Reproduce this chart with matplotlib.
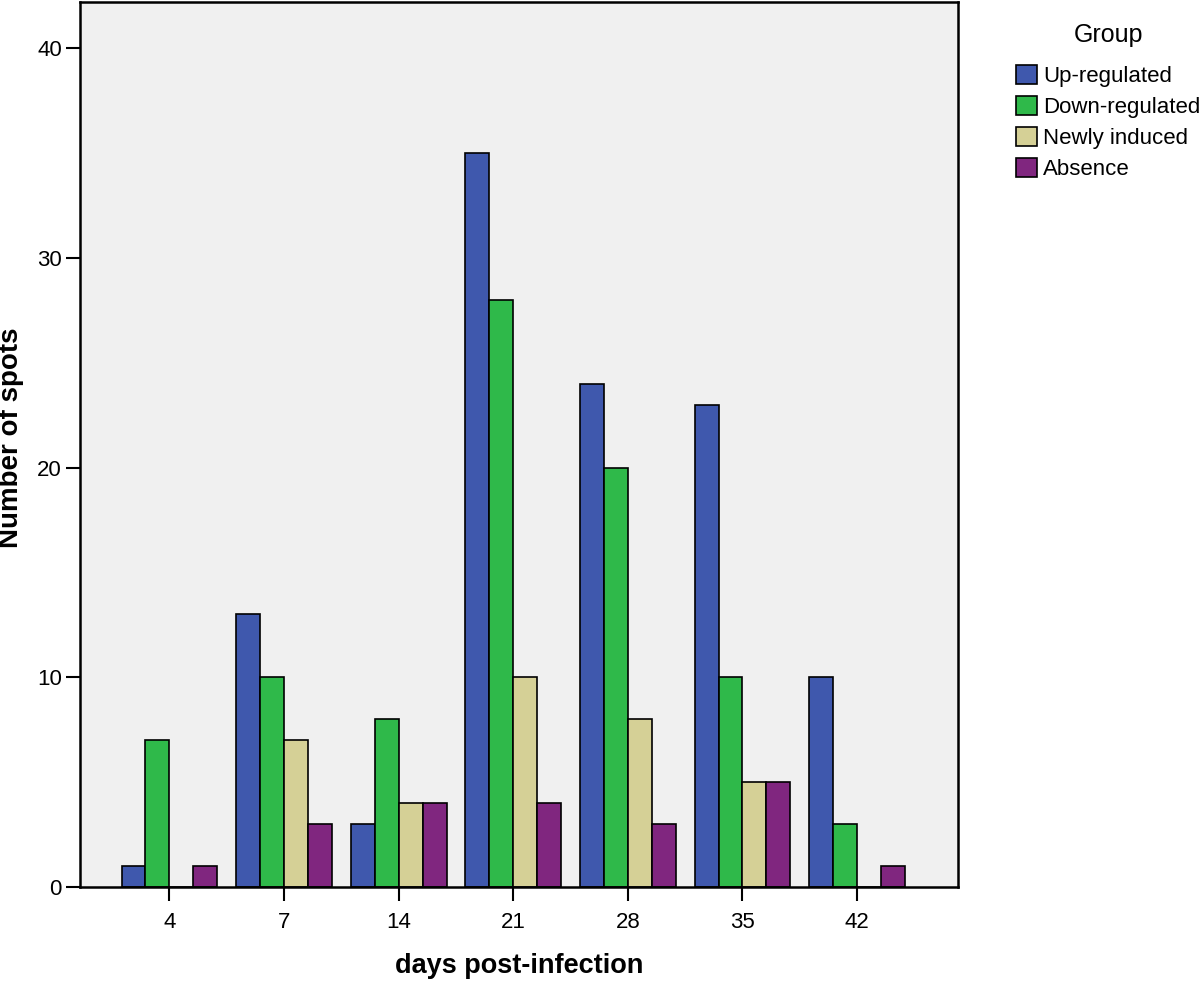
import numpy as np
import matplotlib.pyplot as plt
from matplotlib.patches import Patch

days = ["4", "7", "14", "21", "28", "35", "42"]
groups = ["Up-regulated", "Down-regulated", "Newly induced", "Absence"]
up_regulated = [1, 13, 3, 35, 24, 23, 10]
down_regulated = [7, 10, 8, 28, 20, 10, 3]
newly_induced = [0, 7, 4, 10, 8, 5, 0]
absence = [1, 3, 4, 4, 3, 5, 1]

colors = ["#3F58AD", "#2FB94A", "#D5D096", "#80267F"]

plt.rcParams['font.family'] = ['Liberation Sans', 'DejaVu Sans']

fig = plt.figure(figsize=(12, 9.83), dpi=100)
ax = fig.add_axes([0.0667, 0.0977, 0.7316, 0.9003])
ax.set_facecolor("#F0F0F0")

x = np.arange(len(days))
w = 0.209
series = [up_regulated, down_regulated, newly_induced, absence]
for i, vals in enumerate(series):
	ax.bar(x + (i - 1.5) * w, vals, width=w, color=colors[i], edgecolor="black", linewidth=1.2, zorder=2)

ax.set_xlim(-0.78, 6.88)
ax.set_ylim(0, 42.2)
ax.set_xticks(x)
ax.set_xticklabels(days, fontsize=16)
ax.set_yticks([0, 10, 20, 30, 40])
ax.tick_params(axis='y', labelsize=16, length=10, width=1.5, direction='out', pad=3)
ax.tick_params(axis='x', length=10, width=1.5, direction='out', pad=8)
for s in ax.spines.values():
	s.set_linewidth(1.8)

ax.set_xlabel("days post-infection", fontsize=19.5, fontweight="bold")
ax.xaxis.set_label_coords(0.5, -0.0746)
ax.set_ylabel("Number of spots", fontsize=20, fontweight="bold")
ax.yaxis.set_label_coords(-0.0638, 0.508)

handles = [Patch(facecolor=c, edgecolor="black", linewidth=1.2) for c in colors]
leg = fig.legend(handles, groups, loc="upper left", bbox_to_anchor=(1000/1200, 1 - 7/983),
	frameon=False, fontsize=16, title="Group", title_fontsize=18,
	handlelength=0.95, handleheight=0.95, handletextpad=0.3, labelspacing=0.4, borderpad=0.2)
# more room between title and entries
leg._legend_box.sep = 13

fig.savefig("out.png", dpi=100)
